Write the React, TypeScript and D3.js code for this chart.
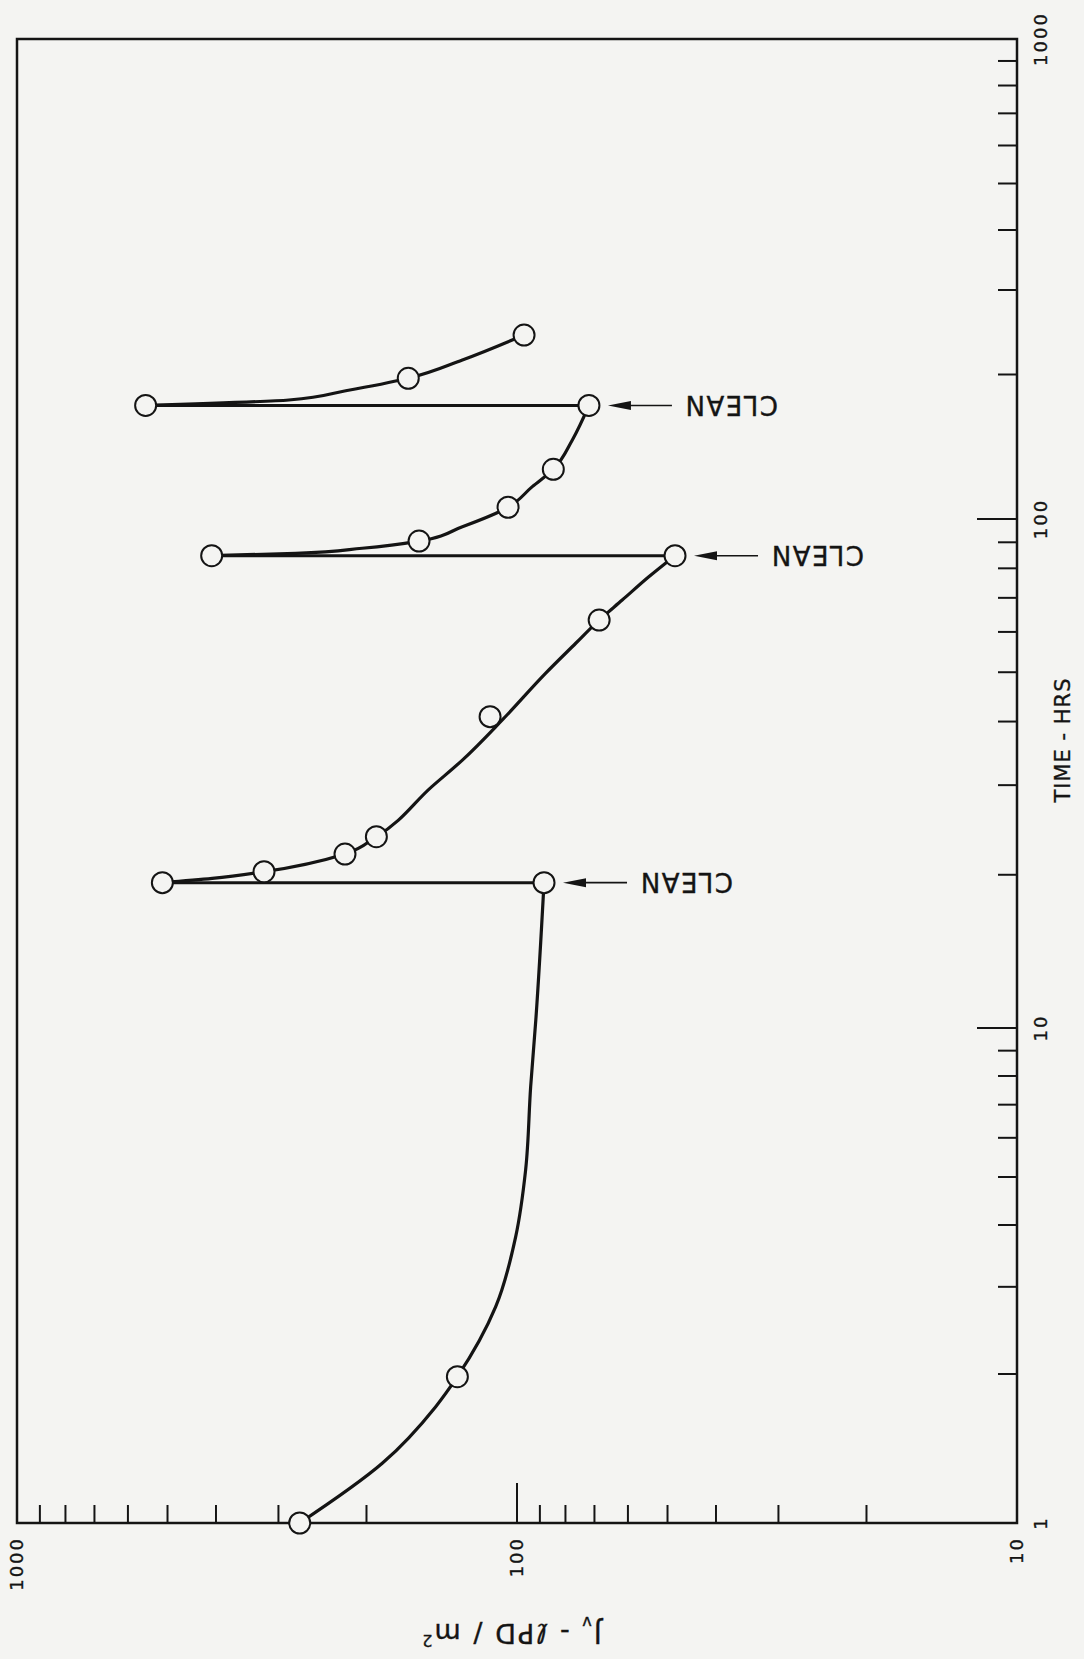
import React from 'react';
import * as d3 from 'd3';

const W = 1084;
const H = 1659;

// runs between cleanings: measured points (t in hrs, J in lPD/m2)
const run1 = [
  { t: 1, j: 272 }, { t: 1.975, j: 131.6 }, { t: 19.3, j: 88.3 },
];
const run2 = [
  { t: 19.3, j: 512 }, { t: 20.28, j: 320.6 }, { t: 21.97, j: 220.8 }, { t: 23.76, j: 191.1 },
  { t: 40.9, j: 113.2 }, { t: 63.3, j: 68.5 }, { t: 84.7, j: 48.3 },
];
const run3 = [
  { t: 84.7, j: 408 }, { t: 90.5, j: 157 }, { t: 105.8, j: 104.2 }, { t: 126.9, j: 84.6 }, { t: 172.4, j: 71.8 },
];
const run4 = [
  { t: 172.4, j: 553 }, { t: 196.4, j: 165 }, { t: 241.7, j: 96.8 },
];

// faired curve
const curve1 = [
  { t: 1.32, j: 186 }, { t: 1.718, j: 145.4 }, { t: 2.735, j: 110.3 }, { t: 3.79, j: 100.6 },
  { t: 5.17, j: 96.1 }, { t: 7.61, j: 93.9 }, { t: 10.37, j: 91.7 },
];
const curve2 = [
  { t: 19.68, j: 407 }, { t: 29.8, j: 148 }, { t: 33.6, j: 128.6 }, { t: 40.3, j: 107 },
  { t: 49.8, j: 87.6 }, { t: 57.0, j: 76.3 }, { t: 69.3, j: 61.6 }, { t: 77.0, j: 54.5 },
];
const curve3 = [
  { t: 85.6, j: 277 }, { t: 87.6, j: 204 }, { t: 96.6, j: 128.6 }, { t: 116.8, j: 93.2 }, { t: 146.1, j: 77.5 },
];
const curve4 = [
  { t: 177, j: 286 }, { t: 185, j: 220 }, { t: 214.4, j: 128.6 },
];
// points that sit off the faired curve
const offCurve = [{ t: 40.9, j: 113.2 }];

const runs = [run1, run2, run3, run4];
const curves = [curve1, curve2, curve3, curve4];

const cleanLabel = 'CLEAN';
const timeLabels = [1, 10, 100, 1000];
const jLabels = [1000, 100, 10];

const font = '"DejaVu Sans", sans-serif';
const ink = '#141414';
const paper = '#f4f4f2';

const App = () => {
  const left = 17, right = 1017, top = 39, bottom = 1523;

  // the scanned time axis is slightly uneven from decade to decade
  const tScale = d3.scaleLog().domain([1, 10, 100, 1000]).range([bottom, 1028, 519, top]);
  const jScale = d3.scaleLog().domain([1000, 10]).range([left, right]);

  const line = d3.line<{ t: number; j: number }>()
    .x(d => jScale(d.j))
    .y(d => tScale(d.t))
    .curve(d3.curveMonotoneY);

  const runPath = (i: number) => {
    const pts = runs[i]
      .filter(p => !offCurve.some(o => o.t === p.t && o.j === p.j))
      .concat(curves[i])
      .sort((a, b) => b.t - a.t);
    return line(pts) || '';
  };

  const tTicks = tScale.ticks().filter(v => v > 1 && v < 1000);
  const jTicks = jScale.ticks().filter(v => v > 10 && v < 1000);
  const isMajor = (v: number) => Math.abs(Math.log10(v) - Math.round(Math.log10(v))) < 1e-9;

  // each cleaning joins the end of one run to the start of the next
  const cleans = runs.slice(0, -1).map((r, i) => ({ low: r[r.length - 1], high: runs[i + 1][0] }));

  const txt = { fontFamily: font, fill: ink, stroke: ink, strokeWidth: 0.35 };

  return (
    <svg width={W} height={H} style={{ position: 'absolute', left: 0, top: 0, background: paper }}>
      <rect width={W} height={H} fill={paper} />

      {/* frame */}
      <rect x={left} y={top} width={right - left} height={bottom - top} fill="none" stroke={ink} strokeWidth={2.5} />

      {/* time axis ticks (right edge) */}
      {tTicks.map(v => (
        <line key={'t' + v} x1={right} x2={right - (isMajor(v) ? 40 : 19)} y1={tScale(v)} y2={tScale(v)}
          stroke={ink} strokeWidth={2} />
      ))}
      {/* J axis ticks (bottom edge) */}
      {jTicks.map(v => (
        <line key={'j' + v} x1={jScale(v)} x2={jScale(v)} y1={bottom} y2={bottom - (isMajor(v) ? 40 : 18)}
          stroke={ink} strokeWidth={2} />
      ))}

      {/* tick labels */}
      {timeLabels.map(v => (
        <text key={'tl' + v} transform={`translate(${right + 24},${tScale(v)}) rotate(-90)`} textAnchor="middle"
          dy="0.36em" fontSize={18} letterSpacing={2} {...txt}>{v}</text>
      ))}
      {jLabels.map(v => (
        <text key={'jl' + v} transform={`translate(${jScale(v)},${bottom + 14}) rotate(-90)`} textAnchor="end"
          dy="0.36em" fontSize={18} letterSpacing={2} {...txt}>{v}</text>
      ))}

      {/* axis titles */}
      <text transform={`translate(${right + 45},${740}) rotate(-90)`} textAnchor="middle" dy="0.36em"
        fontSize={21} letterSpacing={1} {...txt}>TIME - HRS</text>
      <text transform={`translate(${511},${1624}) rotate(180)`} textAnchor="middle"
        fontSize={27} letterSpacing={2} {...txt}>
        <tspan>J</tspan>
        <tspan fontSize={16} dy="7">v</tspan>
        <tspan dy="-7">{'  -  ℓPD / m'}</tspan>
        <tspan fontSize={16} dy="-11">2</tspan>
      </text>

      {/* clean jumps */}
      {cleans.map((c, i) => (
        <line key={'c' + i} x1={jScale(c.low.j)} x2={jScale(c.high.j)} y1={tScale(c.low.t)} y2={tScale(c.high.t)}
          stroke={ink} strokeWidth={3} />
      ))}

      {/* runs */}
      {runs.map((r, i) => (
        <path key={'r' + i} d={runPath(i)} fill="none" stroke={ink} strokeWidth={3.2} strokeLinecap="round" />
      ))}

      {/* CLEAN arrows */}
      {cleans.map((c, i) => {
        const x0 = jScale(c.low.j);
        const y = tScale(c.low.t);
        return (
          <g key={'a' + i}>
            <line x1={x0 + 30} x2={x0 + 83} y1={y} y2={y} stroke={ink} strokeWidth={1.6} />
            <path d={`M${x0 + 19},${y} L${x0 + 42},${y - 4.5} L${x0 + 42},${y + 4.5} Z`} fill={ink} />
            <text transform={`translate(${x0 + 189},${y}) rotate(180)`} textAnchor="start" dy="0.36em"
              fontSize={26} letterSpacing={1.5} {...txt}>{cleanLabel}</text>
          </g>
        );
      })}

      {/* points */}
      {runs.flat().map((p, i) => (
        <circle key={'p' + i} cx={jScale(p.j)} cy={tScale(p.t)} r={10.5} fill={paper} stroke={ink} strokeWidth={2} />
      ))}
    </svg>
  );
};

export default App;
